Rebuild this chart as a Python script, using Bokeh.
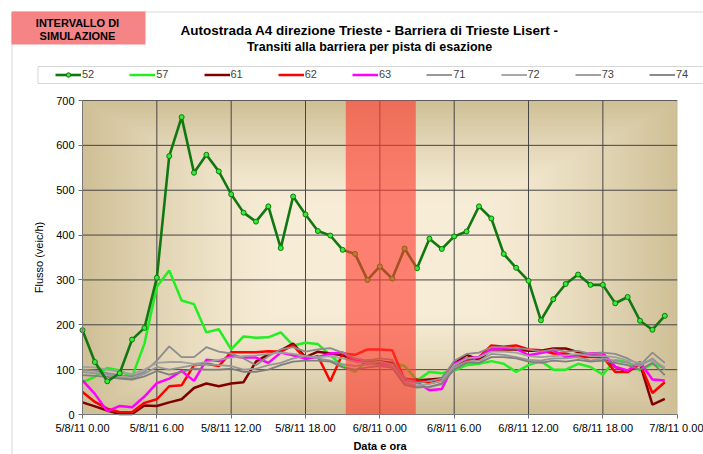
import numpy as np
from bokeh.plotting import figure
from bokeh.models import (BoxAnnotation, Label, Legend, LegendItem, FixedTicker,
                          Range1d, LinearAxis)
from bokeh.embed import file_html
from bokeh.resources import INLINE

FONT = "Liberation Sans"

hours = list(range(48))
tick_hours = [0, 6, 12, 18, 24, 30, 36, 42, 48]
tick_labels = ["5/8/11 0.00", "5/8/11 6.00", "5/8/11 12.00", "5/8/11 18.00",
               "6/8/11 0.00", "6/8/11 6.00", "6/8/11 12.00", "6/8/11 18.00",
               "7/8/11 0.00"]
y_ticks = [0, 100, 200, 300, 400, 500, 600, 700]
sim_start = 21.25
sim_end = 26.9

s52 = [188, 117, 74, 92, 167, 193, 305, 576, 663, 539, 579, 542, 491, 450, 430, 464,
       371, 486, 446, 409, 399, 367, 358, 300, 330, 303, 370, 326, 392, 369, 397, 408,
       464, 437, 358, 327, 298, 210, 257, 291, 312, 289, 289, 248, 262, 209, 189, 220]
s57 = [72, 84, 104, 98, 84, 158, 285, 321, 254, 246, 183, 190, 145, 174, 171, 172,
       183, 154, 160, 157, 132, 108, 95, 121, 118, 115, 108, 76, 95, 92, 98, 110,
       113, 119, 113, 95, 110, 119, 100, 100, 113, 106, 89, 121, 117, 98, 113, 104]
s61 = [27, 18, 9, 1, 1, 20, 19, 27, 34, 59, 69, 63, 69, 72, 118, 134, 143, 158, 128,
       140, 136, 132, 120, 115, 118, 115, 80, 76, 78, 80, 113, 133, 122, 145, 145,
       145, 142, 142, 147, 147, 139, 132, 130, 106, 95, 113, 22, 35]
s62 = [50, 28, 13, 5, 5, 26, 34, 63, 65, 110, 113, 108, 139, 139, 139, 141, 140,
       154, 124, 130, 74, 136, 133, 145, 145, 143, 77, 78, 70, 76, 110, 121, 128,
       154, 151, 154, 145, 143, 136, 136, 128, 128, 128, 95, 95, 113, 48, 72]
s63 = [76, 46, 7, 19, 16, 40, 70, 80, 97, 75, 122, 119, 130, 127, 127, 115, 138,
       132, 125, 128, 136, 138, 121, 115, 112, 110, 78, 72, 54, 57, 113, 125, 128,
       145, 147, 147, 132, 137, 143, 128, 132, 136, 137, 106, 98, 117, 78, 76]
s71 = [100, 98, 92, 88, 85, 95, 120, 152, 128, 128, 150, 140, 136, 125, 110, 130,
       145, 150, 140, 145, 148, 138, 125, 120, 125, 122, 80, 70, 75, 80, 120, 135,
       138, 150, 150, 148, 145, 140, 145, 140, 142, 135, 138, 135, 125, 110, 138, 115]
s72 = [106, 105, 100, 95, 90, 100, 115, 117, 117, 113, 117, 122, 127, 130, 132, 135,
       138, 135, 130, 128, 130, 125, 118, 115, 118, 112, 72, 65, 68, 75, 110, 125,
       128, 140, 140, 138, 130, 128, 130, 132, 135, 130, 130, 128, 120, 115, 120, 105]
s73 = [95, 92, 89, 83, 80, 91, 106, 100, 105, 110, 112, 110, 108, 100, 102, 110,
       115, 125, 130, 125, 120, 112, 108, 112, 110, 108, 70, 62, 60, 70, 105, 118,
       120, 135, 133, 128, 122, 120, 125, 125, 128, 120, 125, 120, 115, 108, 125, 100]
s74 = [88, 86, 84, 80, 78, 85, 97, 89, 95, 102, 100, 100, 102, 95, 95, 100, 110,
       118, 120, 120, 118, 105, 100, 105, 108, 104, 66, 60, 62, 68, 100, 115, 115,
       128, 128, 125, 118, 115, 120, 118, 122, 118, 120, 115, 110, 100, 115, 88]

W, H = 703, 454
# plot area inside the canvas (pixels)
PL, PR, PT, PB = 82.0, 676.7, 100.0, 414.0
xk = (PR - PL) / 48.0
yk = (PB - PT) / 700.0
x_range = Range1d(-PL / xk, 48 + (W - PR) / xk)
y_range = Range1d(-(H - PB) / yk, 700 + PT / yk)

p = figure(width=W, height=H, x_range=x_range, y_range=y_range,
           output_backend="svg", toolbar_location=None,
           x_axis_location=None, y_axis_location=None,
           min_border=0, min_border_left=0, min_border_right=0,
           min_border_top=0, min_border_bottom=0,
           background_fill_color="white", border_fill_color="white",
           outline_line_color=None)
p.grid.visible = False

# background gradient (rectangular path gradient)
ny, nx = 120, 200
u = np.linspace(-1, 1, nx)[None, :]
v = np.linspace(-1, 1, ny)[:, None]
d = np.maximum(np.abs(u), np.abs(v))
t = np.clip((d - 0.35) / 0.65, 0, 1) ** 1.3
cream = np.array([247, 236, 214])
tan = np.array([207, 192, 150])
rgb = cream[None, None, :] * (1 - t[..., None]) + tan[None, None, :] * t[..., None]
img = np.empty((ny, nx), dtype=np.uint32)
view = img.view(dtype=np.uint8).reshape((ny, nx, 4))
view[..., 0] = rgb[..., 0]
view[..., 1] = rgb[..., 1]
view[..., 2] = rgb[..., 2]
view[..., 3] = 255
p.image_rgba(image=[img], x=0, y=0, dw=48, dh=700, level="image")

# grid lines from the tick lists
vx = tick_hours[1:-1]
p.segment(x0=vx, y0=[0] * len(vx), x1=vx, y1=[700] * len(vx),
          line_color="#454545", line_width=1, level="underlay")
hy = y_ticks[1:]
p.segment(x0=[0] * len(hy), y0=hy, x1=[48] * len(hy), y1=hy,
          line_color="#454545", line_width=1, level="underlay")

xaxis = LinearAxis(fixed_location=0, bounds=(0, 48))
yaxis = LinearAxis(fixed_location=0, bounds=(0, 700))
p.add_layout(xaxis, "below")
p.add_layout(yaxis, "left")
xaxis.ticker = FixedTicker(ticks=tick_hours)
xaxis.major_label_overrides = {h: l for h, l in zip(tick_hours, tick_labels)}
yaxis.ticker = FixedTicker(ticks=y_ticks)
for ax in (xaxis, yaxis):
    ax.major_tick_out = 4
    ax.major_tick_in = 0
    ax.minor_tick_out = 0
    ax.minor_tick_in = 0
    ax.axis_line_color = "#707070"
    ax.major_tick_line_color = "#707070"
    ax.major_label_text_font = FONT
    ax.major_label_text_font_size = "11px"
    ax.major_label_text_color = "black"
    ax.axis_label_text_font = FONT
    ax.axis_label_text_font_size = "11px"
    ax.axis_label_text_color = "black"
xaxis.major_label_standoff = 3
yaxis.major_label_standoff = 4
xaxis.axis_label = "Data e ora"
xaxis.axis_label_text_font_style = "bold"
xaxis.axis_label_standoff = 3
yaxis.axis_label = "Flusso (veic/h)"
yaxis.axis_label_text_font_style = "normal"
yaxis.axis_label_standoff = 8

series = [("57", s57, "#22ee22", 2.5), ("61", s61, "#800000", 2.5),
          ("62", s62, "#ff0000", 2.5), ("63", s63, "#ff00ff", 2.5),
          ("71", s71, "#8c8c8c", 1.8), ("72", s72, "#a0a0a0", 1.8),
          ("73", s73, "#969696", 1.8), ("74", s74, "#7f7f7f", 1.8)]
renderers = {}
for name, vals, col, w in series:
    renderers[name] = [p.line(hours, vals, line_color=col, line_width=w)]
l52 = p.line(hours, s52, line_color="#117711", line_width=2.6)
m52 = p.scatter(hours, s52, size=5, fill_color="#33ee33", line_color="#117711",
                line_width=1)
renderers["52"] = [l52, m52]

# simulation interval band
p.add_layout(BoxAnnotation(left=sim_start, right=sim_end, bottom=0, top=700,
                           fill_color="#ff3b30", fill_alpha=0.62, line_alpha=0))
# plot area border
p.add_layout(BoxAnnotation(left=0, right=48, bottom=0, top=700, fill_alpha=0,
                           line_color="#8a8a8a", line_width=1))

def screen_box(l, r, top, bottom, **kw):
    return BoxAnnotation(left=l, right=r, top=H - top, bottom=H - bottom,
                         left_units="screen", right_units="screen",
                         top_units="screen", bottom_units="screen", **kw)

# outer chart frame
p.add_layout(screen_box(11.5, 900, 11.5, 600, fill_alpha=0,
                        line_color="#7a7a7a", line_width=1))
# red "simulation interval" key box
p.add_layout(screen_box(11, 145, 11, 44, fill_color="#f4777a", fill_alpha=0.9,
                        line_alpha=0))
for txt, yy in (("INTERVALLO DI", 22), ("SIMULAZIONE", 35)):
    p.add_layout(Label(x=77, y=H - yy, x_units="screen", y_units="screen", text=txt,
                       text_font=FONT, text_font_size="11px", text_font_style="bold",
                       text_align="center", text_baseline="middle",
                       text_color="black"))
for txt, yy, fs in (("Autostrada A4 direzione Trieste - Barriera di Trieste Lisert -", 30, "13.5px"),
                    ("Transiti alla barriera per pista di esazione", 46, "12.5px")):
    p.add_layout(Label(x=369, y=H - yy, x_units="screen", y_units="screen", text=txt,
                       text_font=FONT, text_font_size=fs, text_font_style="bold",
                       text_align="center", text_baseline="middle",
                       text_color="black"))

# legend border box
p.add_layout(screen_box(37.5, 900, 66, 83, fill_color="white", fill_alpha=1,
                        line_color="#7a7a7a", line_width=1))

order = ["52", "57", "61", "62", "63", "71", "72", "73", "74"]
legend = Legend(items=[LegendItem(label=k, renderers=renderers[k]) for k in order],
                orientation="horizontal", location=(52, H - 83),
                glyph_width=26, glyph_height=11, label_height=11, label_width=12,
                label_standoff=1, spacing=35, padding=3, margin=0,
                border_line_alpha=0, background_fill_alpha=0,
                label_text_font=FONT, label_text_font_size="11px")
p.add_layout(legend)

open("out.html", "w").write(file_html(p, INLINE))
